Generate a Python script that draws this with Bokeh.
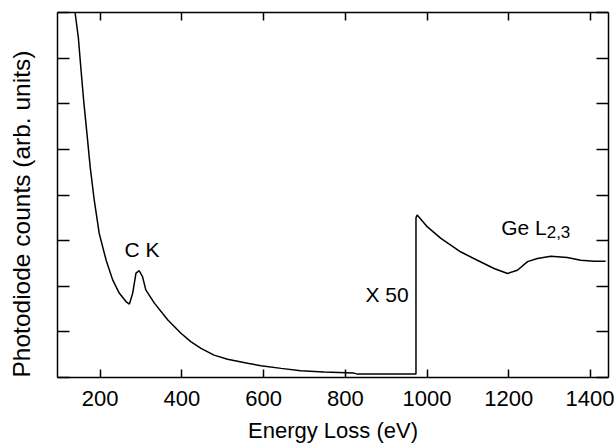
from bokeh.plotting import figure
from bokeh.models import LinearAxis, FixedTicker, Range1d, Title, CustomJSTickFormatter
from bokeh.core.properties import value
from bokeh.embed import file_html
from bokeh.resources import INLINE

# spectrum (energy loss in eV, counts in arbitrary units; right part scaled x 50)
energy = [134, 139, 147, 153, 160, 168, 176, 186, 198, 215, 231, 247, 264, 272,
          280, 288, 296, 304, 312, 333, 366, 398, 422, 447, 479, 512, 561, 594,
          643, 691, 748, 821, 830, 968, 973,
          973, 976, 1001, 1034, 1083, 1123, 1164, 1197, 1221, 1246, 1270, 1303,
          1343, 1376, 1409, 1437]
counts = [8.35, 8.0, 7.45, 6.80, 6.07, 5.35, 4.61, 3.88, 3.16, 2.57, 2.14, 1.85, 1.66, 1.61,
          1.85, 2.29, 2.34, 2.21, 1.92, 1.63, 1.26, 0.97, 0.785, 0.64, 0.49, 0.40, 0.31, 0.26,
          0.20, 0.146, 0.118, 0.096, 0.074, 0.074, 0.074,
          3.50, 3.56, 3.30, 3.05, 2.75, 2.57, 2.39, 2.28, 2.35, 2.54, 2.61, 2.66,
          2.63, 2.57, 2.55, 2.55]

x_ticks = [200, 400, 600, 800, 1000, 1200, 1400]
y_ticks = [0, 1, 2, 3, 4, 5, 6, 7, 8]

label_x = [259.9, 849.5, 1181.5]
label_y = [2.81, 1.82, 3.28]
label_text = ["C K", "X 50", "Ge L"]
sub_x = [1292.8]
sub_y = [3.18]
sub_text = ["2,3"]

x_title = "Energy Loss (eV)"
y_title = "Photodiode counts (arb. units)"

FONT = "Liberation Sans"

p = figure(width=614, height=445, output_backend="svg", toolbar_location=None,
           x_range=Range1d(96, 1444), y_range=Range1d(0, 8),
           x_axis_location=None, y_axis_location=None,
           min_border_left=57, min_border_top=12, min_border_right=6, min_border_bottom=67)
for g in p.grid:
    g.visible = False
p.outline_line_color = None
p.background_fill_color = "white"
p.border_fill_color = "white"


def make_axis(ticks, tick_len, labels=True):
    ax = LinearAxis(ticker=FixedTicker(ticks=ticks, minor_ticks=[]))
    ax.axis_line_color = "black"
    ax.axis_line_width = 1.5
    ax.major_tick_line_color = "black"
    ax.major_tick_line_width = 1.5
    ax.major_tick_in = tick_len
    ax.major_tick_out = 0
    ax.minor_tick_in = 0
    ax.minor_tick_out = 0
    if labels:
        ax.major_label_text_font = FONT
        ax.major_label_text_font_size = "22px"
        ax.major_label_text_color = "black"
    else:
        ax.formatter = CustomJSTickFormatter(code="return ''")
        ax.major_label_text_font_size = "0px"
        ax.major_label_standoff = 0
    return ax


bottom = make_axis(x_ticks, 8)
bottom.major_label_standoff = 13
bottom.axis_label = x_title
bottom.axis_label_text_font = FONT
bottom.axis_label_text_font_size = "22px"
bottom.axis_label_text_font_style = "normal"
bottom.axis_label_text_color = "black"
bottom.axis_label_standoff = 9
p.add_layout(bottom, "below")

p.add_layout(make_axis(x_ticks, 8, labels=False), "above")
p.add_layout(make_axis(y_ticks, 12, labels=False), "left")
p.add_layout(make_axis(y_ticks, 12, labels=False), "right")

# spacer between the left axis and the vertical title
p.add_layout(Title(text=" ", text_font_size="1px", standoff=20), "left")
p.add_layout(Title(text=y_title, align="left", text_font=FONT, text_font_size="24.5px",
                   text_font_style="normal", text_color="black", standoff=0), "left")

p.line(energy, counts, line_color="black", line_width=1.5)

p.text(x=label_x, y=label_y, text=label_text, text_font=value(FONT),
       text_font_size="21px", text_color="black",
       text_align="left", text_baseline="alphabetic")
p.text(x=sub_x, y=sub_y, text=sub_text, text_font=value(FONT),
       text_font_size="17px", text_color="black",
       text_align="left", text_baseline="alphabetic")

open("out.html", "w").write(file_html(p, INLINE))
